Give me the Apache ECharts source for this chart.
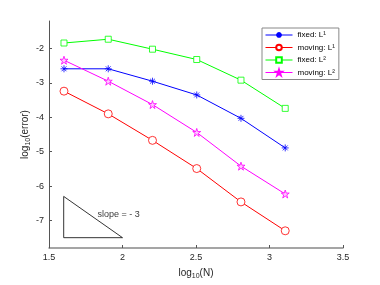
<!DOCTYPE html>
<html>
<head>
<meta charset="utf-8">
<script src="https://cdn.jsdelivr.net/npm/echarts@6/dist/echarts.min.js"></script>
<style>html,body{margin:0;padding:0;background:#fff}#c{width:380px;height:285px}</style>
</head>
<body>
<div id="c"></div>
<script>
var xLogN = [1.602, 1.903, 2.204, 2.505, 2.806, 3.107];
var fixedL1 = [-2.59, -2.59, -2.95, -3.35, -4.03, -4.89];
var movingL1 = [-3.24, -3.90, -4.67, -5.49, -6.46, -7.30];
var fixedL2 = [-1.84, -1.73, -2.02, -2.32, -2.92, -3.74];
var movingL2 = [-2.34, -2.95, -3.63, -4.44, -5.42, -6.23];
var seriesNames = ['fixed: L\u00b9', 'moving: L\u00b9', 'fixed: L\u00b2', 'moving: L\u00b2'];
var xTicks = [1.5, 2, 2.5, 3, 3.5];
var yTicks = [-7, -6, -5, -4, -3, -2];
var triangleX = [1.6, 1.6, 2.0, 1.6];
var triangleY = [-6.3, -7.5, -7.5, -6.3];
var slopeText = 'slope = - 3';
var slopePos = [1.83, -6.82];

function pts(ys) { return xLogN.map(function (x, i) { return [x, ys[i]]; }); }
var asterisk = 'path://M5 0L5 10M0 5L10 5M1.5 1.5L8.5 8.5M8.5 1.5L1.5 8.5';
var star = 'path://M50 0L61.8 35.4L99 35.4L69 57.3L80.4 92.7L50 70.8L19.6 92.7L31 57.3L1 35.4L38.2 35.4Z';

var font = 'Liberation Sans, Arial, sans-serif';
var chart = echarts.init(document.getElementById('c'), null, {renderer: 'canvas'});
function mk(name, ys, color, symbol, size, fill) {
  return {
    name: name, type: 'line', data: pts(ys), symbol: symbol, symbolSize: size,
    showSymbol: true,
    lineStyle: {color: color, width: 1},
    itemStyle: {color: fill, borderColor: color, borderWidth: 0.8},
    emphasis: {disabled: true}, z: 3
  };
}
chart.setOption({
  animation: false,
  textStyle: {fontFamily: font},
  grid: {left: 49, right: 37, top: 21, bottom: 35},
  legend: {
    data: seriesNames, orient: 'vertical', left: 262, top: 28,
    backgroundColor: '#fff', borderColor: '#888', borderWidth: 1,
    padding: [3, 4, 3, 3], itemWidth: 27, itemHeight: 7, itemGap: 4.5,
    lineStyle: {width: 1},
    textStyle: {fontSize: 8, color: '#000', fontFamily: font}
  },
  xAxis: {
    type: 'value', min: 1.5, max: 3.5, interval: 0.5,
    name: '{a|log}{s|10}{a|(N)}', nameLocation: 'middle', nameGap: 19, nameMoveOverlap: false,
    nameTextStyle: {rich: {a: {fontSize: 10, color: '#262626', fontFamily: font}, s: {fontSize: 7, color: '#262626', verticalAlign: 'bottom', padding: [6, 0, 0, 0], fontFamily: font}}},
    axisLine: {lineStyle: {color: '#888', width: 1.5}},
    axisTick: {inside: true, length: 3, lineStyle: {color: '#555'}},
    axisLabel: {fontSize: 9, color: '#262626', margin: 5, formatter: function (v) { return xTicks.indexOf(v) >= 0 ? String(v) : ''; }},
    splitLine: {show: false}
  },
  yAxis: {
    type: 'value', min: -7.8, max: -1.2,
    name: '{a|log}{s|10}{a|(error)}', nameLocation: 'middle', nameGap: 17, nameRotate: 90, nameMoveOverlap: false,
    nameTextStyle: {rich: {a: {fontSize: 10, color: '#262626', fontFamily: font}, s: {fontSize: 7, color: '#262626', padding: [6, 0, 0, 0], fontFamily: font}}},
    axisLine: {show: true, lineStyle: {color: '#555', width: 1}},
    axisTick: {show: true, inside: true, length: 3, customValues: yTicks, lineStyle: {color: '#555'}},
    axisLabel: {fontSize: 9, color: '#262626', margin: 5, customValues: yTicks},
    splitLine: {show: false}
  },
  series: [
    mk(seriesNames[0], fixedL1, '#0000ff', asterisk, 7, '#0000ff'),
    mk(seriesNames[1], movingL1, '#ff0000', 'circle', 8, '#fff'),
    mk(seriesNames[2], fixedL2, '#00ff00', 'rect', 6, '#fff'),
    mk(seriesNames[3], movingL2, '#ff00ff', star, 8, '#ffc8ff'),
    {
      name: 'triangle', type: 'line', symbol: 'none', silent: true,
      data: triangleX.map(function (x, i) { return [x, triangleY[i]]; }),
      lineStyle: {color: '#000', width: 0.8}, z: 2
    },
    {
      name: 'slope', type: 'scatter', symbolSize: 0, silent: true,
      data: [slopePos],
      label: {show: true, position: 'right', distance: 0, formatter: slopeText, fontSize: 9, color: '#000', fontFamily: font}
    }
  ]
});
</script>
</body>
</html>
